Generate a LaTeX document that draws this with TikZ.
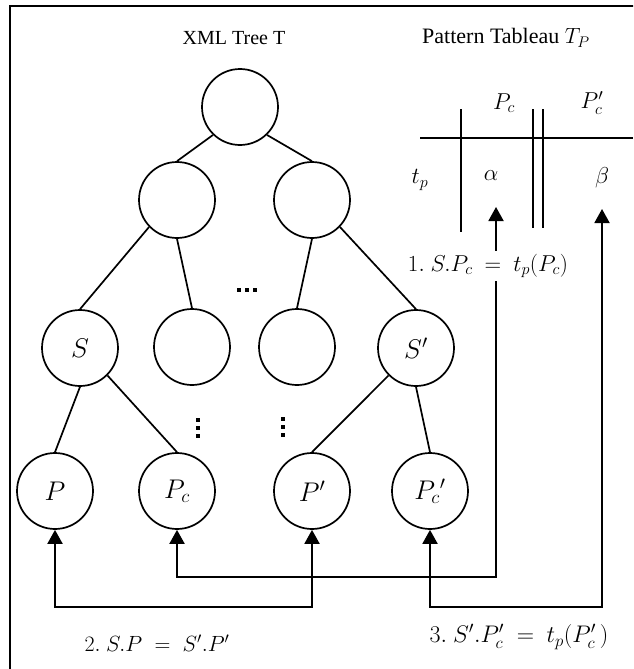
\RequirePackage{fix-cm}
\documentclass[tikz,border=0pt]{standalone}
\usepackage{fontspec}
\setmainfont{Liberation Serif}
\usetikzlibrary{arrows.meta}
\begin{document}
\begin{tikzpicture}[x=1pt,y=-1pt,
  tnode/.style={draw,circle,line width=1.7pt,minimum size=76pt,inner sep=0pt,font=\fontsize{27}{30}\selectfont},
  edge/.style={line width=1.7pt},
  conn/.style={line width=1.9pt},
  tip/.tip={Triangle[length=14pt,width=15pt]},
  lbl/.style={font=\fontsize{20}{24}\selectfont,inner sep=1pt},
  mlbl/.style={font=\fontsize{23}{26}\selectfont,inner sep=1pt},
  dot/.style={fill=black,minimum size=3.8pt,inner sep=0pt,rectangle},
  tab/.style={line width=1.8pt}]
\useasboundingbox (0,0) rectangle (633,669);
\clip (0,0) rectangle (633,669);
\draw[line width=1.4pt] (10,6) rectangle (650,690);

\node[lbl] (t1) at (234,38) {XML Tree T};
\node[lbl,font=\fontsize{22}{24}\selectfont] (t2) at (506,38) {Pattern Tableau $T_P$};

% tree
\node[tnode] (root) at (240,107) {};
\node[tnode] (a) at (177,200) {};
\node[tnode] (b) at (312,200) {};
\node[tnode] (S) at (80,348) {$S$};
\node[tnode] (c2) at (192,347) {};
\node[tnode] (c3) at (297,347) {};
\node[tnode] (Sp) at (416,348) {$S'$};
\node[tnode] (P) at (55,491) {$P$};
\node[tnode] (Pc) at (177,491) {$P_c$};
\node[tnode] (Pp) at (312,491) {$P'$};
\node[tnode] (Pcp) at (430,491) {$P_c{}'$};

\draw[edge] (root.226) -- (a.north);
\draw[edge] (root.314) -- (b.north);
\draw[edge] (a.224) -- (S.north);
\draw[edge] (a.south) -- (c2.north);
\draw[edge] (b.south) -- (c3.north);
\draw[edge] (b.316) -- (Sp.north);
\draw[edge] (S.south) -- (P.north);
\draw[edge] (S.315) -- (Pc.north);
\draw[edge] (Sp.225) -- (Pp.north);
\draw[edge] (Sp.south) -- (Pcp.north);

% ellipsis marks
\node[dot] (h1) at (239,290) {};
\node[dot] (h2) at (247,290) {};
\node[dot] (h3) at (255,290) {};
\node[dot] (v11) at (198,420) {};
\node[dot] (v12) at (198,428) {};
\node[dot] (v13) at (198,436) {};
\node[dot] (v21) at (283,419) {};
\node[dot] (v22) at (283,427) {};
\node[dot] (v23) at (283,435) {};

% tableau
\coordinate (hl) at (420,138);
\coordinate (hr) at (633,138);
\draw[tab] (hl) -- (hr);
\draw[tab] (461,109) -- (461,232);
\draw[tab] (533,109) -- (533,228);
\draw[tab] (543,109) -- (543,228);
\node[mlbl] (lpc) at (504,103) {$P_c$};
\node[mlbl] (lpcp) at (592,103) {$P'_c$};
\node[mlbl] (ltp) at (420,180) {$t_p$};
\node[mlbl] (lal) at (491,176) {$\alpha$};
\node[mlbl] (lbe) at (602,178) {$\beta$};

% connectors
\coordinate (atip) at (496,207);
\coordinate (btip) at (602,209);
\coordinate (y1) at (0,577);
\coordinate (y2) at (0,607);
\draw[conn,tip-tip] (P.south) -- (P.south |- y2) -- (Pp.south |- y2) -- (Pp.south);
\draw[conn,tip-tip] (Pc.south) -- (Pc.south |- y1) -- (atip |- y1) -- (atip);
\draw[conn,tip-tip] (Pcp.south) -- (Pcp.south |- y2) -- (btip |- y2) -- (btip);

\node[mlbl,fill=white,inner sep=3pt] (e1) at (488,266) {$1.\ S.P_c\ =\ t_p(P_c)$};
\node[mlbl,font=\fontsize{22}{26}\selectfont] (e2) at (157,643) {$2.\ S.P\;=\;S'.P'$};
\node[mlbl,font=\fontsize{24}{26}\selectfont] (e3) at (519,637) {$3.\ S'.P'_c\ =\ t_p(P'_c\,)$};
\end{tikzpicture}
\end{document}
